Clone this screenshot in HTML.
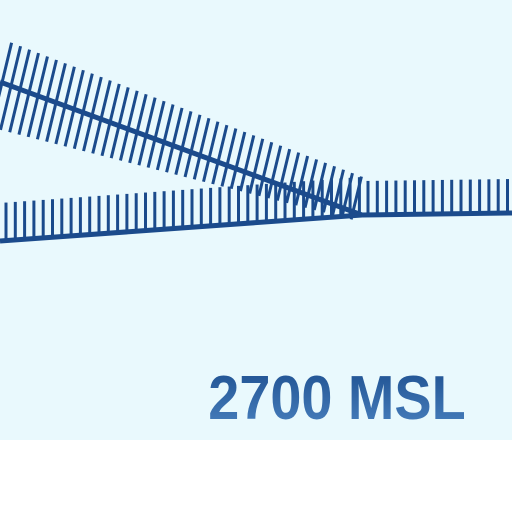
<!DOCTYPE html>
<html><head><meta charset="utf-8"><style>
html,body{margin:0;padding:0;width:512px;height:512px;overflow:hidden;background:#fff}
svg{display:block}
</style></head><body>
<svg id="c" width="512" height="512">
<defs><linearGradient id="tg" x1="0" y1="0" x2="0" y2="1"><stop offset="0" stop-color="#1d4f8f"/><stop offset="1" stop-color="#4a82c0"/></linearGradient></defs>
<rect x="0" y="0" width="512" height="440" fill="#e9f9fd"/>
<g id="hatches"></g>
<text x="337" y="419" text-anchor="middle" font-family="Liberation Sans, sans-serif" font-weight="bold" font-size="62" fill="url(#tg)" transform="translate(337,0) scale(0.9,1) translate(-337,0)">2700 MSL</text>
</svg>
<script>
const diagLine = [[0,82],[362,215]];
const lowerLine = [[0,241],[362,215],[512,213]];
const spacing = [9];
const ns="http://www.w3.org/2000/svg";
const g=document.getElementById('hatches');
const col="#1b4b8c";
function ln(x1,y1,x2,y2,w,name){const l=document.createElementNS(ns,'line');
l.setAttribute('x1',x1);l.setAttribute('y1',y1);l.setAttribute('x2',x2);l.setAttribute('y2',y2);
l.setAttribute('stroke',col);l.setAttribute('stroke-width',w);


g.appendChild(l);}
const [a,b]=diagLine;
for(let x=a[0]+2;x<b[0]-6;x+=spacing[0]){
  const t=(x-a[0])/(b[0]-a[0]);const y=a[1]+t*(b[1]-a[1]);
  const up=40-t*5, dn=45*(1-t*0.85);
  ln(x+up*0.24,y-up,x-dn*0.24,y+dn,3,'diagonal-hatch');
}
for(let i=0;i<lowerLine.length-1;i++){const p=lowerLine[i],q=lowerLine[i+1];
  for(let x=p[0]+6;x<q[0];x+=spacing[0]+0.3){const t=(x-p[0])/(q[0]-p[0]);const y=p[1]+t*(q[1]-p[1]);
    ln(x,y,x,y-(i==0?38:34),3,'boundary-hatch');}}
ln(a[0],a[1],b[0],b[1],5,'diagonal-boundary');
for(let i=0;i<lowerLine.length-1;i++)ln(lowerLine[i][0],lowerLine[i][1],lowerLine[i+1][0],lowerLine[i+1][1],5,'lower-boundary');
</script>
</body></html>
